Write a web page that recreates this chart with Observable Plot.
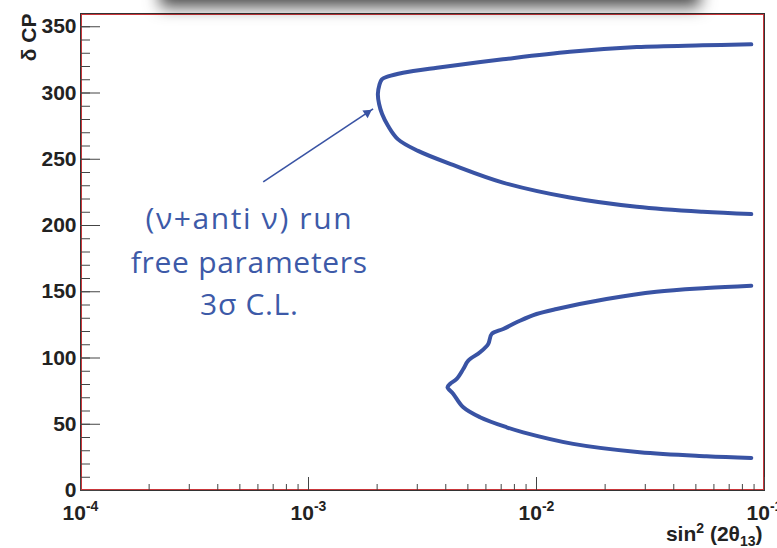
<!DOCTYPE html>
<html><head><meta charset="utf-8">
<script src="https://cdn.jsdelivr.net/npm/d3@7"></script>
<script src="https://cdn.jsdelivr.net/npm/@observablehq/plot@0.6"></script>
<style>
body{margin:0;background:#fff;}
#wrap{position:relative;width:777px;height:548px;overflow:hidden;}
#shadow{position:absolute;left:165px;top:-30px;width:530px;height:30px;background:#fff;box-shadow:0 2px 16px 5px rgba(0,0,0,0.7);z-index:2;pointer-events:none;}
</style></head><body><div id="wrap"><div id="shadow"></div></div>
<script>
// Upper contour (sin^2 2θ13, δCP)
const upperX = [0.0875,0.05356,0.02753,0.0140,0.007126,0.003663,0.002600,0.002235,0.002097,0.002046,0.002015,0.002040,0.002103,0.002235,0.002471,0.003023,0.004303,0.007126,0.0140,0.02753,0.05356,0.0875];
const upperY = [336.7,336.0,334.7,331.1,325.4,319.1,315.3,312.5,310.3,306.0,299.3,291.7,284.2,275.1,265.0,256.3,245.7,232.4,221.1,214.1,210.3,208.6];
// Lower contour
const lowerX = [0.0875,0.0556,0.03357,0.02028,0.01225,0.01001,0.008459,0.007147,0.006357,0.006143,0.005651,0.005021,0.004774,0.004467,0.004174,0.004070,0.004316,0.004774,0.005651,0.007396,0.008745,0.01448,0.02837,0.0556,0.0875];
const lowerY = [154.5,152.8,150.0,144.5,137.0,133.2,128.1,121.9,118.1,110.6,104.3,98.0,91.7,84.2,80.4,78.0,72.9,62.8,55.3,47.7,43.9,35.2,28.9,25.9,24.6];

const xMajorTicks = [1e-4, 1e-3, 1e-2, 1e-1];
const xTickLabels = ["10^-4", "10^-3", "10^-2", "10^-1"];
const yMajorTicks = [0, 50, 100, 150, 200, 250, 300, 350];
const yMinorTicks = d3.range(0, 360, 10);
const xMinorTicks = [1e-4, 1e-3, 1e-2].flatMap(d => d3.range(2, 10).map(k => k * d));

const xLabel = "sin^2 (2θ_13)";
const yLabel = "δ CP";

const noteLines = ["(ν+anti ν) run", "free parameters", "3σ C.L."];
const noteX = [0.00055, 0.00055, 0.00055];
const noteY = [197.2, 164.3, 132.7];
const arrowFrom = [0.000633, 232.9];
const arrowTo = [0.00192, 288.0];

const blue = "#3953a4";
const upper = upperX.map((x, i) => ({x, y: upperY[i]}));
const lower = lowerX.map((x, i) => ({x, y: lowerY[i]}));
const notes = noteLines.map((t, i) => ({t, x: noteX[i], y: noteY[i]}));
const arrow = [{x1: arrowFrom[0], y1: arrowFrom[1], x2: arrowTo[0], y2: arrowTo[1]}];

const svg = Plot.plot({
  width: 777, height: 548,
  marginLeft: 80, marginRight: 13, marginTop: 13, marginBottom: 58,
  style: "font-family: 'Liberation Sans', Arial, sans-serif; font-size: 21px; font-weight: bold; color: #222; background: transparent;",
  x: {type: "log", domain: [1e-4, 1e-1]},
  y: {domain: [0, 360]},
  marks: [
    Plot.frame({stroke: "#333"}),
    Plot.frame({stroke: "#c9363a", inset: 1}),
    Plot.axisY({ticks: yMinorTicks, tickSize: -10, text: null, label: null, stroke: "#444"}),
    Plot.axisY({ticks: yMajorTicks, tickSize: -20, text: null, label: null, stroke: "#444"}),
    Plot.axisY({ticks: yMajorTicks, tickSize: 0, tickPadding: 4, label: null, tickFormat: d => String(d)}),
    Plot.axisX({ticks: xMinorTicks, tickSize: -6, text: null, label: null, stroke: "#444"}),
    Plot.axisX({ticks: xMajorTicks, tickSize: -13, text: null, label: null, stroke: "#444"}),
    Plot.axisX({ticks: xMajorTicks, tickSize: 0, tickPadding: 15, label: null, tickFormat: d => xTickLabels[xMajorTicks.indexOf(d)]}),
    Plot.text([yLabel], {frameAnchor: "top-left", rotate: -90, textAnchor: "end", lineAnchor: "bottom", dx: -45, text: d => d}),
    Plot.text([xLabel], {frameAnchor: "bottom-right", textAnchor: "end", lineAnchor: "bottom", dx: -2, dy: 50, text: d => d}),
    Plot.line(upper, {x: "x", y: "y", stroke: blue, strokeWidth: 4, curve: "catmull-rom"}),
    Plot.line(lower, {x: "x", y: "y", stroke: blue, strokeWidth: 4, curve: "catmull-rom"}),
    Plot.link(arrow, {x1: "x1", y1: "y1", x2: "x2", y2: "y2", stroke: blue, strokeWidth: 1.6}),
    Plot.dot(arrow, {x: "x2", y: "y2", symbol: "triangle2", r: 4.5, fill: blue, rotate: 56, dx: -5.8, dy: 3.9}),
    Plot.text(notes, {x: "x", y: "y", text: "t", fill: "#3d5aa8", fontFamily: "'Open Sans', sans-serif", fontSize: 30, fontWeight: "normal", lineAnchor: "bottom", textAnchor: "middle"})
  ]
});
document.getElementById("wrap").appendChild(svg);

// superscripts / subscripts, note spacing
const NS = "http://www.w3.org/2000/svg";
function tspan(parent, txt, opts) {
  const t = document.createElementNS(NS, "tspan");
  t.textContent = txt;
  for (const k in opts) t.setAttribute(k, opts[k]);
  parent.appendChild(t);
}
svg.querySelectorAll("text").forEach(el => {
  const s = el.textContent;
  if (/^10\^-\d$/.test(s)) {
    const [base, exp] = s.split("^");
    el.textContent = base;
    tspan(el, exp, {dy: "-9", "font-size": "14"});
  } else if (s === xLabel) {
    el.textContent = "sin";
    tspan(el, "2", {dy: "-8", "font-size": "14"});
    tspan(el, " (2θ", {dy: "8"});
    tspan(el, "13", {dy: "5", "font-size": "14"});
    tspan(el, ")", {dy: "-5"});
  } else if (noteLines.includes(s)) {
    el.setAttribute("letter-spacing", s === noteLines[0] ? "1.6" : "0.7");
  }
});
</script>
</body></html>
